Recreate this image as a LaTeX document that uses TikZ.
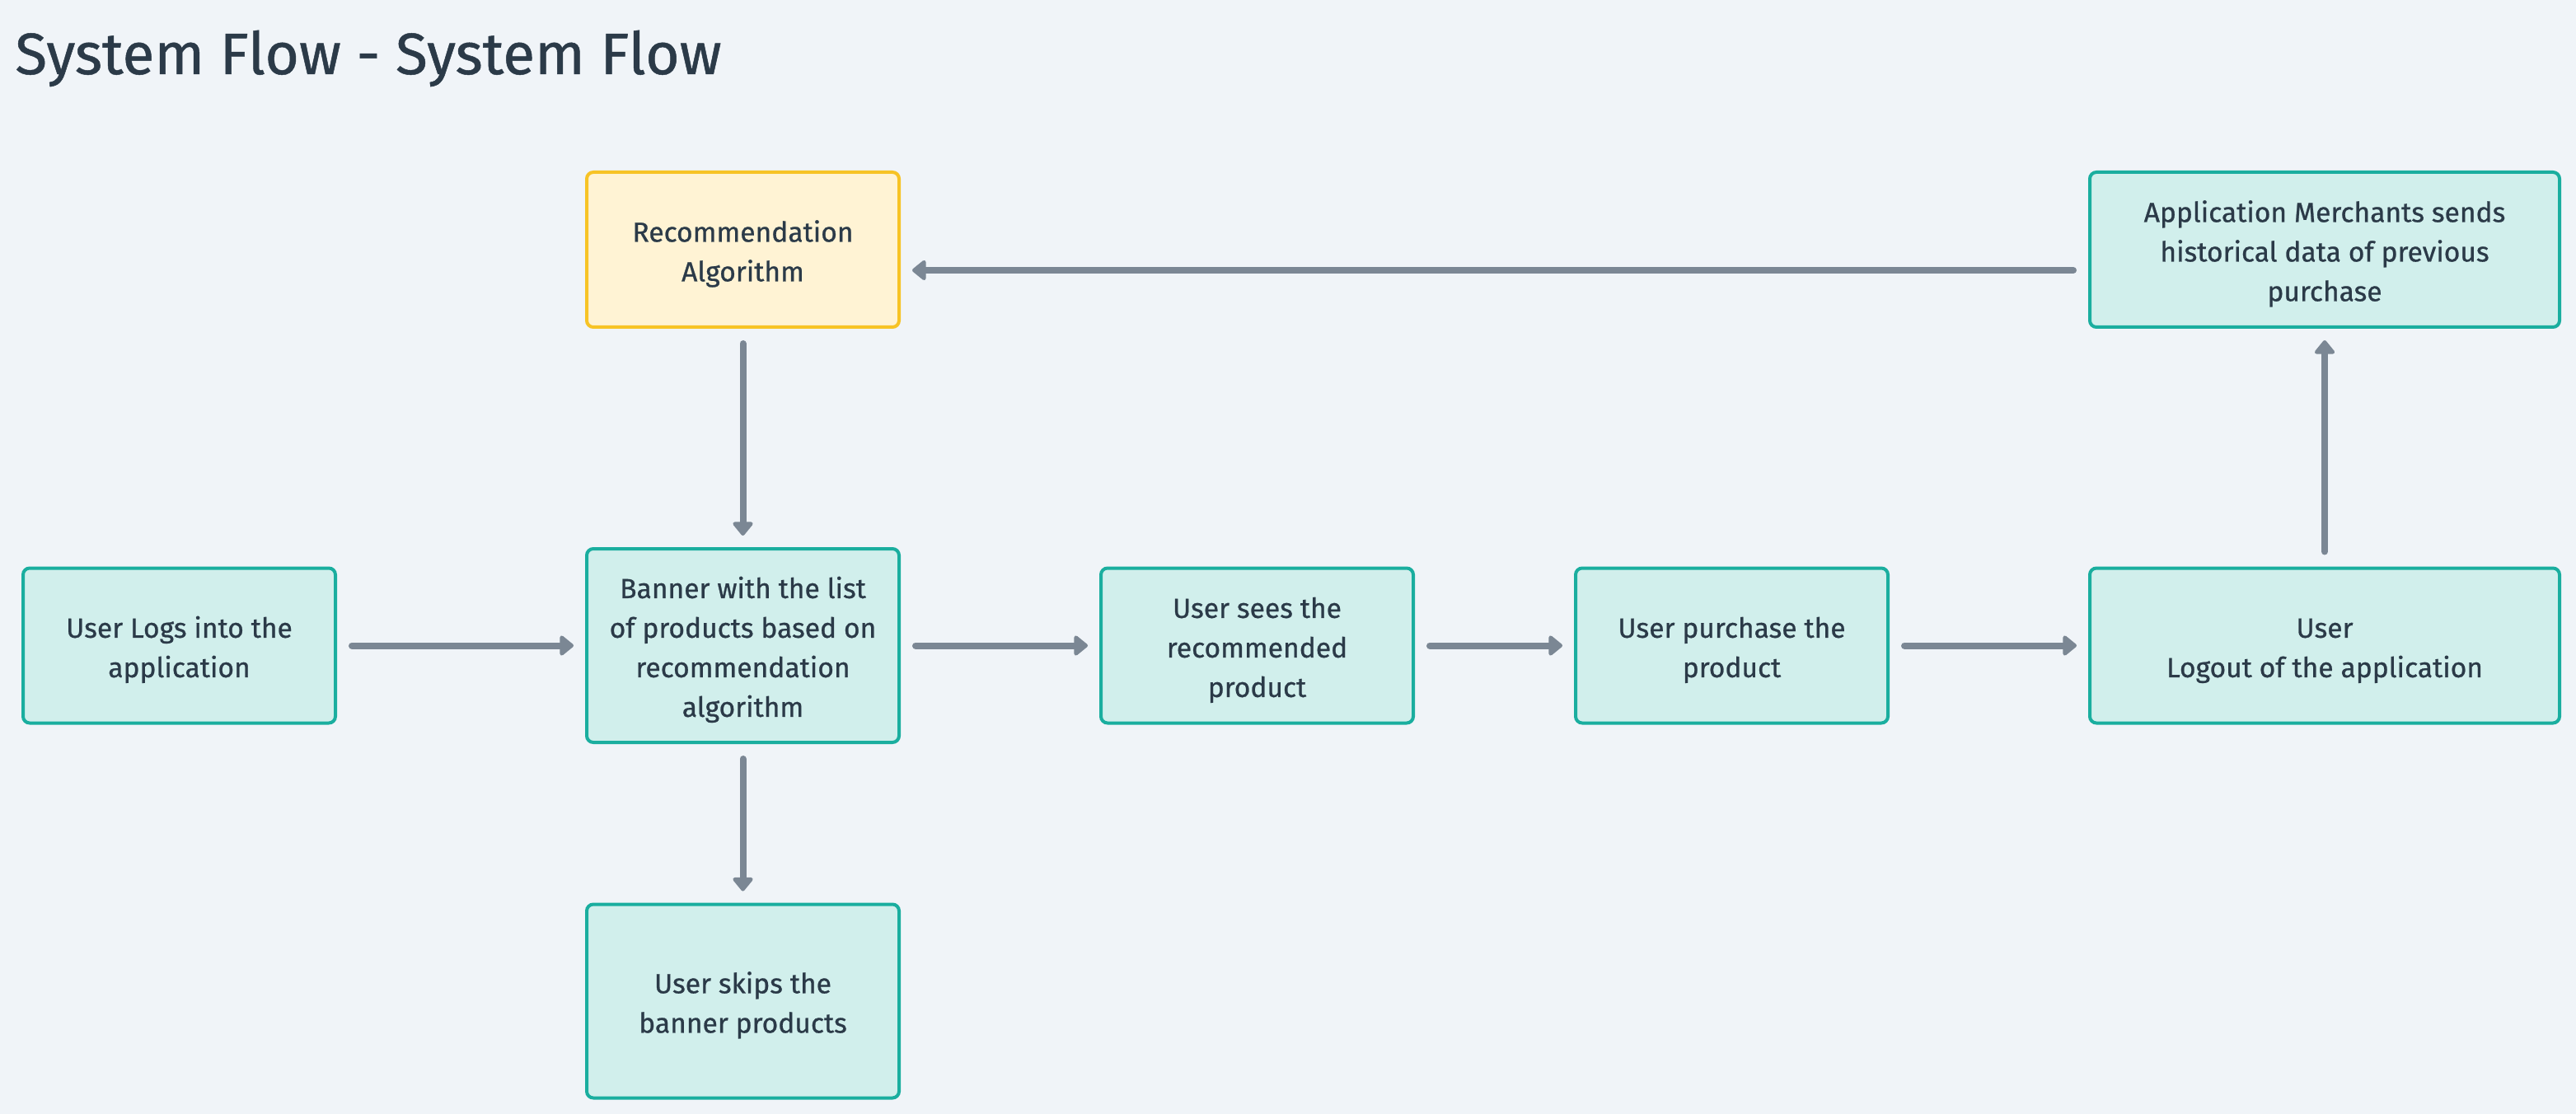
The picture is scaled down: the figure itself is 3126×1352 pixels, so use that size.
\documentclass[tikz,border=0pt]{standalone}
\usepackage{fontspec}
\setmainfont{Fira Sans}[UprightFeatures={FakeBold=0.7}]
\usetikzlibrary{arrows.meta}
\definecolor{bg}{HTML}{F0F4F8}
\definecolor{tealb}{HTML}{1AAE9F}
\definecolor{tealf}{HTML}{D1EFEC}
\definecolor{yelb}{HTML}{F7C325}
\definecolor{yelf}{HTML}{FFF3D4}
\definecolor{arrc}{HTML}{7B8794}
\definecolor{txt}{HTML}{2B3A48}
\newcommand{\tstr}{\rule{0pt}{18pt}}
\tikzset{
  box/.style={draw=tealb, fill=tealf, line width=2pt, rounded corners=4pt,
    minimum width=189.5pt, minimum height=94pt, align=center, text=txt,
    font=\fontsize{16.8}{24}\selectfont, inner sep=0pt},
  ybox/.style={box, draw=yelb, fill=yelf},
  arr/.style={draw=arrc, line width=4pt, line cap=round,
    -{Triangle[length=9pt,width=14pt,round]}, shorten <=9pt, shorten >=7pt}
}
\begin{document}
\begin{tikzpicture}[x=0.5pt,y=-0.5pt]
\useasboundingbox[fill=bg] (0,0) rectangle (3126,1352);
\node[anchor=base west, text=txt, font=\fontsize{35.5}{40}\selectfont, inner sep=0pt] (title) at (18,90) {System Flow - System Flow};
\node[ybox] (rec) at (901.5,303) {\tstr Recommendation\\Algorithm};
\node[box, minimum width=285pt] (merch) at (2821,303) {\tstr Application Merchants sends\\historical data of previous\\purchase};
\node[box] (login) at (217.5,783.5) {\tstr User Logs into the\\application};
\node[box, minimum height=117.5pt] (banner) at (901.5,783.5) {\tstr Banner with the list\\of products based on\\recommendation\\algorithm};
\node[box] (sees) at (1525.5,783.5) {\tstr User sees the\\recommended\\product};
\node[box] (purch) at (2101.5,783.5) {\tstr User purchase the\\product};
\node[box, minimum width=285pt] (logout) at (2821,783.5) {\tstr User\\Logout of the application};
\node[box, minimum height=117.5pt] (skips) at (901.5,1215) {\tstr User skips the\\banner products};
\draw[arr] (rec) -- (banner);
\draw[arr] (login) -- (banner);
\draw[arr] (banner) -- (sees);
\draw[arr] (sees) -- (purch);
\draw[arr] (purch) -- (logout);
\draw[arr] (logout) -- (merch);
\draw[arr] (banner) -- (skips);
\draw[arr] ([yshift=-12.5pt]merch.west) -- ([yshift=-12.5pt]rec.east);
\end{tikzpicture}
\end{document}
